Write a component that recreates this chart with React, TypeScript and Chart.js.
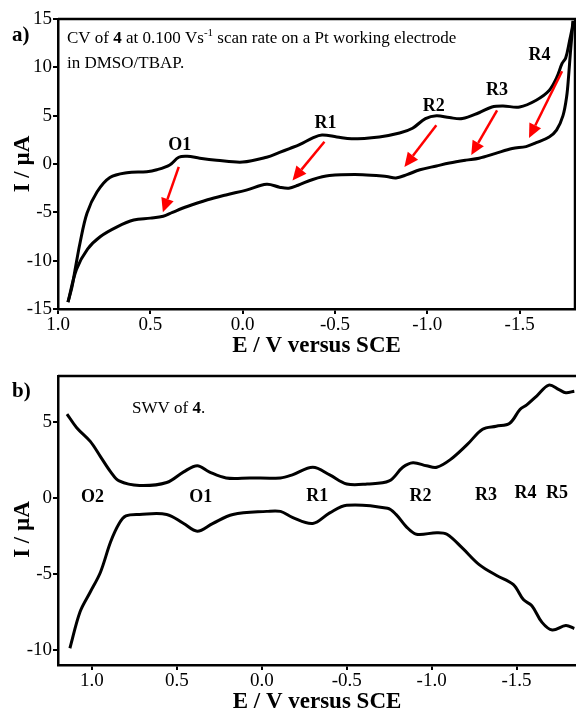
import React, { useEffect, useRef } from 'react';
import { Chart, registerables } from 'chart.js';

Chart.register(...registerables);

const FONT = '"Liberation Serif", "Times New Roman", serif';

// ---------- Panel a : cyclic voltammogram ----------
const cvUpperE = [0.946, 0.924, 0.908, 0.881, 0.843, 0.789, 0.719, 0.627, 0.519, 0.465, 0.395, 0.346, 0.30, 0.232, 0.141, 0.0, -0.13, -0.2, -0.254, -0.308, -0.38, -0.43, -0.51, -0.59, -0.74, -0.85, -0.92, -0.99, -1.05, -1.12, -1.19, -1.28, -1.35, -1.41, -1.5, -1.59, -1.66, -1.7, -1.73, -1.75, -1.77, -1.785, -1.79];
const cvUpperI = [-14.3, -12.7, -11.0, -8.2, -5.1, -2.9, -1.4, -0.9, -0.8, -0.6, -0.1, 0.7, 0.8, 0.6, 0.4, 0.2, 0.7, 1.2, 1.6, 2.0, 2.7, 3.0, 2.8, 2.6, 2.8, 3.2, 3.7, 4.7, 5.0, 4.8, 4.7, 5.3, 5.9, 6.0, 5.9, 6.6, 7.6, 8.9, 10.4, 11.0, 12.7, 14.1, 14.8];
const cvLowerE = [-1.79, -1.775, -1.765, -1.755, -1.735, -1.7, -1.66, -1.59, -1.535, -1.46, -1.37, -1.28, -1.21, -1.12, -1.05, -0.96, -0.89, -0.83, -0.78, -0.65, -0.47, -0.38, -0.3, -0.25, -0.2, -0.13, -0.02, 0.09, 0.19, 0.3, 0.38, 0.43, 0.5, 0.59, 0.68, 0.77, 0.84, 0.9, 0.946];
const cvLowerI = [14.8, 11.5, 9.0, 7.0, 5.0, 3.5, 2.8, 2.2, 1.8, 1.6, 1.1, 0.6, 0.4, 0.1, -0.2, -0.6, -1.1, -1.45, -1.3, -1.1, -1.2, -1.6, -2.2, -2.5, -2.4, -2.1, -2.7, -3.2, -3.7, -4.4, -5.0, -5.4, -5.6, -5.8, -6.5, -7.5, -8.8, -10.9, -14.3];
const cvXTicks = [1.0, 0.5, 0.0, -0.5, -1.0, -1.5];
const cvYTicks = [-15, -10, -5, 0, 5, 10, 15];
const cvPeakNames = ['O1', 'R1', 'R2', 'R3', 'R4'];
const cvPeakE = [0.34, -0.449, -1.035, -1.378, -1.608];
const cvPeakI = [1.9, 4.2, 5.95, 7.6, 11.2];
const cvArrowFromE = [0.346, -0.443, -1.049, -1.378, -1.73];
const cvArrowFromI = [-0.3, 2.3, 4.0, 5.56, 9.6];
const cvArrowToE = [0.432, -0.27, -0.876, -1.238, -1.551];
const cvArrowToI = [-5.0, -1.7, -0.3, 0.93, 2.69];

// ---------- Panel b : square wave voltammogram ----------
const swvUpperE = [1.147, 1.09, 1.01, 0.95, 0.89, 0.84, 0.72, 0.56, 0.46, 0.38, 0.31, 0.21, 0.07, -0.11, -0.18, -0.3, -0.4, -0.5, -0.62, -0.75, -0.83, -0.89, -0.97, -1.03, -1.11, -1.21, -1.3, -1.38, -1.46, -1.52, -1.56, -1.62, -1.69, -1.75, -1.79, -1.84];
const swvUpperI = [5.5, 4.6, 3.7, 2.7, 1.7, 1.1, 0.8, 1.0, 1.7, 2.1, 1.7, 1.3, 1.3, 1.3, 1.5, 2.0, 1.5, 0.9, 0.9, 1.1, 2.0, 2.3, 2.1, 2.0, 2.5, 3.5, 4.5, 4.7, 4.9, 5.8, 6.1, 6.7, 7.4, 7.1, 6.9, 7.0];
const swvLowerE = [1.13, 1.07, 1.01, 0.95, 0.89, 0.84, 0.8, 0.72, 0.56, 0.46, 0.38, 0.29, 0.17, -0.03, -0.11, -0.18, -0.3, -0.4, -0.5, -0.74, -0.79, -0.85, -0.91, -1.03, -1.09, -1.18, -1.28, -1.38, -1.48, -1.54, -1.59, -1.65, -1.71, -1.79, -1.84];
const swvLowerI = [-9.9, -7.5, -6.2, -4.9, -2.9, -1.7, -1.2, -1.1, -1.1, -1.7, -2.2, -1.7, -1.1, -0.9, -0.9, -1.3, -1.7, -1.0, -0.5, -0.7, -1.1, -1.9, -2.4, -2.3, -2.4, -3.3, -4.4, -5.1, -5.7, -6.7, -7.1, -8.2, -8.7, -8.4, -8.6];
const swvXTicks = [1.0, 0.5, 0.0, -0.5, -1.0, -1.5];
const swvYTicks = [-10, -5, 0, 5];
const swvPeakNames = ['O2', 'O1', 'R1', 'R2', 'R3', 'R4', 'R5'];
const swvPeakE = [0.997, 0.359, -0.326, -0.935, -1.32, -1.553, -1.738];
const swvPeakI = [0.0, 0.0, 0.1, 0.1, 0.13, 0.26, 0.26];

type Seg = { t: string; bold?: boolean; sup?: boolean };

const pts = (xs: number[], ys: number[]) => xs.map((x, i) => ({ x, y: ys[i] }));

const annotPlugin = {
  id: 'annot',
  afterDraw(chart: any, _args: any, opts: any) {
    const { ctx, chartArea: ca } = chart;
    const xs = chart.scales.x;
    const ys = chart.scales.y;
    ctx.save();
    // frame
    ctx.strokeStyle = '#000';
    ctx.lineWidth = 2.5;
    ctx.beginPath();
    ctx.moveTo(ca.left, ca.top);
    ctx.lineTo(ca.right, ca.top);
    if (opts.frameRight) ctx.lineTo(ca.right, ca.bottom);
    ctx.stroke();

    // arrows
    const arrows = opts.arrows || [];
    ctx.strokeStyle = '#ff0000';
    ctx.fillStyle = '#ff0000';
    ctx.lineWidth = 2.5;
    for (const a of arrows) {
      const x1 = xs.getPixelForValue(a[0]);
      const y1 = ys.getPixelForValue(a[1]);
      const x2 = xs.getPixelForValue(a[2]);
      const y2 = ys.getPixelForValue(a[3]);
      const ang = Math.atan2(y2 - y1, x2 - x1);
      const hl = 14;
      const hw = 6.5;
      const bx = x2 - hl * Math.cos(ang);
      const by = y2 - hl * Math.sin(ang);
      ctx.beginPath();
      ctx.moveTo(x1, y1);
      ctx.lineTo(bx, by);
      ctx.stroke();
      ctx.beginPath();
      ctx.moveTo(x2, y2);
      ctx.lineTo(bx + hw * Math.sin(ang), by - hw * Math.cos(ang));
      ctx.lineTo(bx - hw * Math.sin(ang), by + hw * Math.cos(ang));
      ctx.closePath();
      ctx.fill();
    }

    // peak labels
    ctx.fillStyle = '#000';
    ctx.font = `bold 18px ${FONT}`;
    ctx.textAlign = 'center';
    ctx.textBaseline = 'middle';
    for (const l of opts.labels || []) {
      ctx.fillText(l[0], xs.getPixelForValue(l[1]), ys.getPixelForValue(l[2]));
    }

    // y-axis title drawn here when it sits off-centre
    if (opts.yTitle) {
      ctx.save();
      ctx.font = `bold 23px ${FONT}`;
      ctx.translate(opts.yTitle.x, (ca.top + ca.bottom) / 2 + opts.yTitle.dy);
      ctx.rotate(-Math.PI / 2);
      ctx.fillText(opts.yTitle.text, 0, 0);
      ctx.restore();
    }

    // descriptive text
    ctx.textAlign = 'left';
    ctx.textBaseline = 'alphabetic';
    for (const line of opts.lines || []) {
      let cx = ca.left + line.dx;
      const by = ca.top + line.dy;
      for (const s of line.segs as Seg[]) {
        ctx.font = s.sup ? `11px ${FONT}` : `${s.bold ? 'bold ' : ''}17px ${FONT}`;
        ctx.fillText(s.t, cx, s.sup ? by - 7 : by);
        cx += ctx.measureText(s.t).width;
      }
    }

    // panel label
    ctx.font = `bold 21px ${FONT}`;
    ctx.fillText(opts.panel, 12, 41);
    ctx.restore();
  },
};

function makeScales(xTicks: number[], yTicks: number[], xmin: number, xmax: number, ymin: number, ymax: number, showYTitle: boolean) {
  const grid = { drawOnChartArea: false, drawTicks: true, tickLength: 5, color: '#000', lineWidth: 2 };
  const border = { color: '#000', width: 2.5 };
  return {
    x: {
      type: 'linear',
      reverse: true,
      min: xmin,
      max: xmax,
      afterBuildTicks: (ax: any) => { ax.ticks = xTicks.map((v) => ({ value: v })); },
      afterFit: (ax: any) => { ax.height = 47; },
      ticks: {
        autoSkip: false,
        maxRotation: 0,
        padding: 0,
        color: '#000',
        font: { family: FONT, size: 19 },
        callback: (v: any) => Number(v).toFixed(1),
      },
      grid,
      border,
      title: {
        display: true,
        text: 'E / V versus SCE',
        color: '#000',
        font: { family: FONT, size: 23, weight: 'bold', lineHeight: 1 },
        padding: { top: 0, bottom: -2 },
      },
    },
    y: {
      type: 'linear',
      min: ymin,
      max: ymax,
      afterBuildTicks: (ax: any) => { ax.ticks = yTicks.map((v) => ({ value: v })); },
      afterFit: (ax: any) => { ax.width = 58; },
      ticks: {
        autoSkip: false,
        padding: 1,
        color: '#000',
        font: { family: FONT, size: 19 },
        callback: (v: any) => String(v),
      },
      grid,
      border,
      title: {
        display: showYTitle,
        text: 'I / µA',
        color: '#000',
        font: { family: FONT, size: 23, weight: 'bold', lineHeight: 1 },
        padding: { top: 12, bottom: 0 },
      },
    },
  };
}

const lineStyle = { borderColor: '#000', borderWidth: 3, pointRadius: 0, fill: false, tension: 0.35 };

export default function App() {
  const refA = useRef<HTMLCanvasElement>(null);
  const refB = useRef<HTMLCanvasElement>(null);

  useEffect(() => {
    const chartA = new Chart(refA.current as HTMLCanvasElement, {
      type: 'line',
      data: {
        datasets: [
          { ...lineStyle, data: pts(cvUpperE, cvUpperI) },
          { ...lineStyle, data: pts(cvLowerE, cvLowerI) },
        ],
      },
      options: {
        responsive: false,
        animation: false,
        events: [],
        layout: { padding: { top: 19, right: 1, left: 0, bottom: 0 } },
        scales: makeScales(cvXTicks, cvYTicks, -1.8, 1.0, -15, 15, true) as any,
        plugins: {
          legend: { display: false },
          tooltip: { enabled: false },
          annot: {
            panel: 'a)',
            frameRight: true,
            labels: cvPeakNames.map((n, i) => [n, cvPeakE[i], cvPeakI[i]]),
            arrows: cvArrowFromE.map((e, i) => [e, cvArrowFromI[i], cvArrowToE[i], cvArrowToI[i]]),
            lines: [
              {
                dx: 9, dy: 24,
                segs: [
                  { t: 'CV of ' }, { t: '4', bold: true }, { t: ' at 0.100 Vs' }, { t: '-1', sup: true },
                  { t: ' scan rate on a Pt working electrode' },
                ],
              },
              { dx: 9, dy: 49, segs: [{ t: 'in DMSO/TBAP.' }] },
            ],
          },
        } as any,
      },
      plugins: [annotPlugin],
    });

    const chartB = new Chart(refB.current as HTMLCanvasElement, {
      type: 'line',
      data: {
        datasets: [
          { ...lineStyle, data: pts(swvUpperE, swvUpperI) },
          { ...lineStyle, data: pts(swvLowerE, swvLowerI) },
        ],
      },
      options: {
        responsive: false,
        animation: false,
        events: [],
        layout: { padding: { top: 20, right: 0, left: 0, bottom: 0 } },
        scales: makeScales(swvXTicks, swvYTicks, -1.85, 1.2, -11, 8, false) as any,
        plugins: {
          legend: { display: false },
          tooltip: { enabled: false },
          annot: {
            panel: 'b)',
            frameRight: false,
            yTitle: { text: 'I / µA', x: 23.5, dy: 9 },
            labels: swvPeakNames.map((n, i) => [n, swvPeakE[i], swvPeakI[i]]),
            arrows: [],
            lines: [
              { dx: 74, dy: 37, segs: [{ t: 'SWV of ' }, { t: '4', bold: true }, { t: '.' }] },
            ],
          },
        } as any,
      },
      plugins: [annotPlugin],
    });

    return () => {
      chartA.destroy();
      chartB.destroy();
    };
  }, []);

  return (
    <div style={{ position: 'absolute', left: 0, top: 0, width: 576, height: 712, background: '#fff' }}>
      <canvas ref={refA} width={576} height={356} style={{ display: 'block' }} />
      <canvas ref={refB} width={576} height={356} style={{ display: 'block' }} />
    </div>
  );
}
